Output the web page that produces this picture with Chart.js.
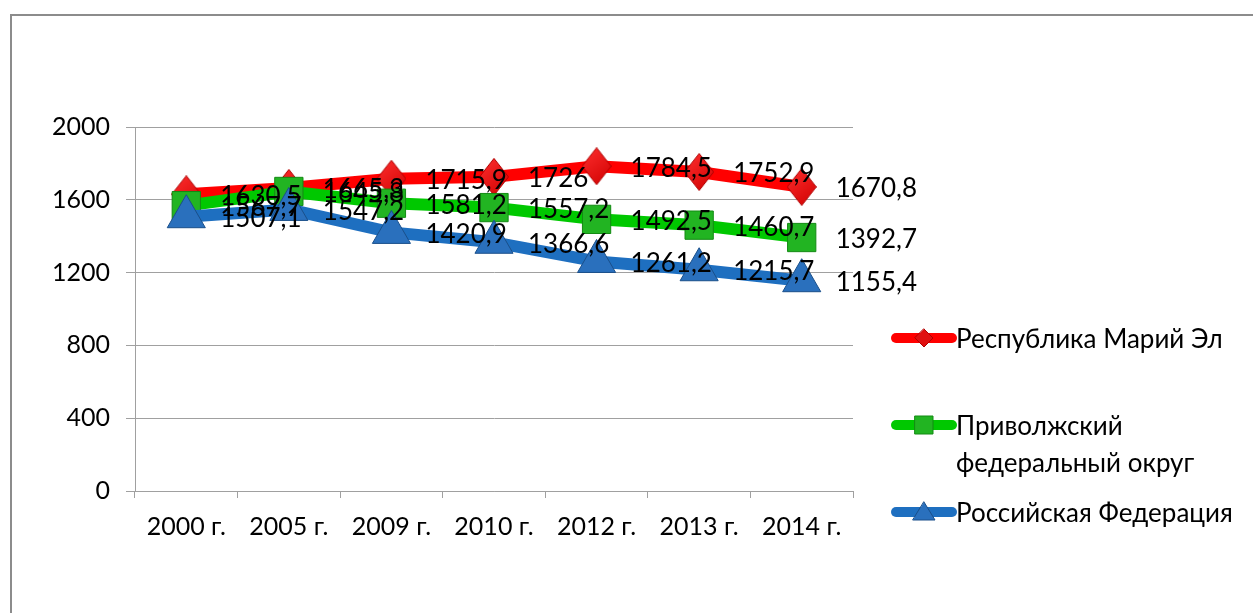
<!DOCTYPE html>
<html><head><meta charset="utf-8">
<script src="https://cdn.jsdelivr.net/npm/chart.js@4/dist/chart.umd.min.js"></script>
<style>html,body{margin:0;padding:0;background:#fff;}#wrap{width:1253px;height:613px;position:relative;}</style>
</head><body><div id="wrap"><canvas id="c" width="1253" height="613"></canvas></div>
<script>
const categories = ["2000 г.", "2005 г.", "2009 г.", "2010 г.", "2012 г.", "2013 г.", "2014 г."];
const mariEl = [1630.5, 1665.3, 1715.9, 1726, 1784.5, 1752.9, 1670.8];
const privolzh = [1567.7, 1645.8, 1581.2, 1557.2, 1492.5, 1460.7, 1392.7];
const russia = [1507.1, 1547.2, 1420.9, 1366.6, 1261.2, 1215.7, 1155.4];
const seriesNames = [["Республика Марий Эл"], ["Приволжский", "федеральный округ"], ["Российская Федерация"]];
const yTicks = [0, 400, 800, 1200, 1600, 2000];

const FONT = "Lato, 'Open Sans', sans-serif";
const fmt = v => String(v).replace('.', ',');

function diamondImg(w, h) {
  const cv = document.createElement('canvas'); cv.width = w; cv.height = h;
  const g = cv.getContext('2d');
  const grd = g.createLinearGradient(0, 0, w, h);
  grd.addColorStop(0, '#ff3030'); grd.addColorStop(1, '#d00000');
  g.fillStyle = grd; g.strokeStyle = '#b00000'; g.lineWidth = 1;
  g.beginPath(); g.moveTo(w / 2, 0.5); g.lineTo(w - 0.5, h / 2); g.lineTo(w / 2, h - 0.5); g.lineTo(0.5, h / 2); g.closePath();
  g.fill(); g.stroke();
  return cv;
}
const redDiamond = diamondImg(30, 38);

const frame = {
  id: 'frame',
  beforeDraw(chart) {
    const c = chart.ctx; c.save();
    c.strokeStyle = '#8c8c8c'; c.lineWidth = 2;
    c.beginPath(); c.moveTo(11, 613); c.lineTo(11, 15); c.lineTo(1253, 15); c.stroke();
    c.restore();
  }
};

const labelsPlugin = {
  id: 'vlabels',
  afterDatasetsDraw(chart) {
    const c = chart.ctx; c.save();
    c.font = "26px " + FONT; c.fillStyle = '#000'; c.textBaseline = 'middle'; c.textAlign = 'left';
    chart.data.datasets.forEach((ds, i) => {
      const meta = chart.getDatasetMeta(i);
      meta.data.forEach((pt, j) => { c.fillText(fmt(ds.data[j]), pt.x + 34, pt.y + 2); });
    });
    c.restore();
  }
};

const legendPlugin = {
  id: 'mylegend',
  afterDraw(chart) {
    const c = chart.ctx; c.save();
    const ys = [338, 425, 512];
    chart.data.datasets.forEach((ds, i) => {
      const y = ys[i];
      c.strokeStyle = ds.borderColor; c.lineWidth = 10; c.lineCap = 'round';
      c.beginPath(); c.moveTo(896, y); c.lineTo(952, y); c.stroke();
      c.fillStyle = ds.pointBackgroundColor; c.strokeStyle = ds.pointBorderColor; c.lineWidth = 1;
      const x = 924;
      c.beginPath();
      if (i === 0) { c.fillStyle = '#e01010'; c.strokeStyle = '#b00000'; c.moveTo(x, y - 9); c.lineTo(x + 9, y); c.lineTo(x, y + 9); c.lineTo(x - 9, y); c.closePath(); }
      else if (ds.pointStyle === 'rect') { c.rect(x - 9, y - 9, 18, 18); }
      else { c.moveTo(x, y - 10); c.lineTo(x + 11, y + 8); c.lineTo(x - 11, y + 8); c.closePath(); }
      c.fill(); c.stroke();
      c.fillStyle = '#000'; c.font = "26px " + FONT; c.textBaseline = 'middle'; c.textAlign = 'left';
      seriesNames[i].forEach((t, k) => c.fillText(t, 956, y + 2 + k * 37));
    });
    c.restore();
  }
};

new Chart(document.getElementById('c'), {
  type: 'line',
  data: {
    labels: categories,
    datasets: [
      { label: seriesNames[0].join(' '), data: mariEl, borderColor: '#ff0000', borderWidth: 12,
        pointStyle: redDiamond, pointRadius: 15, order: 3 },
      { label: seriesNames[1].join(' '), data: privolzh, borderColor: '#00c800', borderWidth: 12,
        pointStyle: 'rect', pointRadius: 20, pointBackgroundColor: '#22b422', pointBorderColor: '#138a13', pointBorderWidth: 1, order: 2 },
      { label: seriesNames[2].join(' '), data: russia, borderColor: '#1e6fc0', borderWidth: 12,
        pointStyle: 'triangle', pointRadius: 22, pointBackgroundColor: '#2a70bd', pointBorderColor: '#1a4f8a', pointBorderWidth: 1, order: 1 }
    ]
  },
  options: {
    responsive: false, animation: false,
    layout: { padding: { left: 0, right: 400, top: 127, bottom: 0 } },
    plugins: { legend: { display: false }, tooltip: { enabled: false } },
    elements: { line: { tension: 0, borderJoinStyle: 'round', borderCapStyle: 'round' } },
    scales: {
      x: {
        offset: true,
        grid: { offset: true, drawOnChartArea: false, drawTicks: true, tickLength: 7, color: '#a0a0a0' },
        border: { display: true, color: '#a0a0a0', width: 1 },
        ticks: { color: '#000', font: { family: FONT, size: 25 }, padding: 14, maxRotation: 0 },
        afterFit(s) { s.height = 122; }
      },
      y: {
        min: 0, max: 2000,
        afterBuildTicks(s) { s.ticks = yTicks.map(v => ({ value: v })); },
        grid: { color: '#a0a0a0', tickLength: 9, drawTicks: true },
        border: { display: true, color: '#a0a0a0', width: 1 },
        ticks: { color: '#000', font: { family: FONT, size: 25 }, padding: 16, callback: v => String(v) },
        afterFit(s) { s.width = 135; }
      }
    }
  },
  plugins: [frame, labelsPlugin, legendPlugin]
});
</script></body></html>
